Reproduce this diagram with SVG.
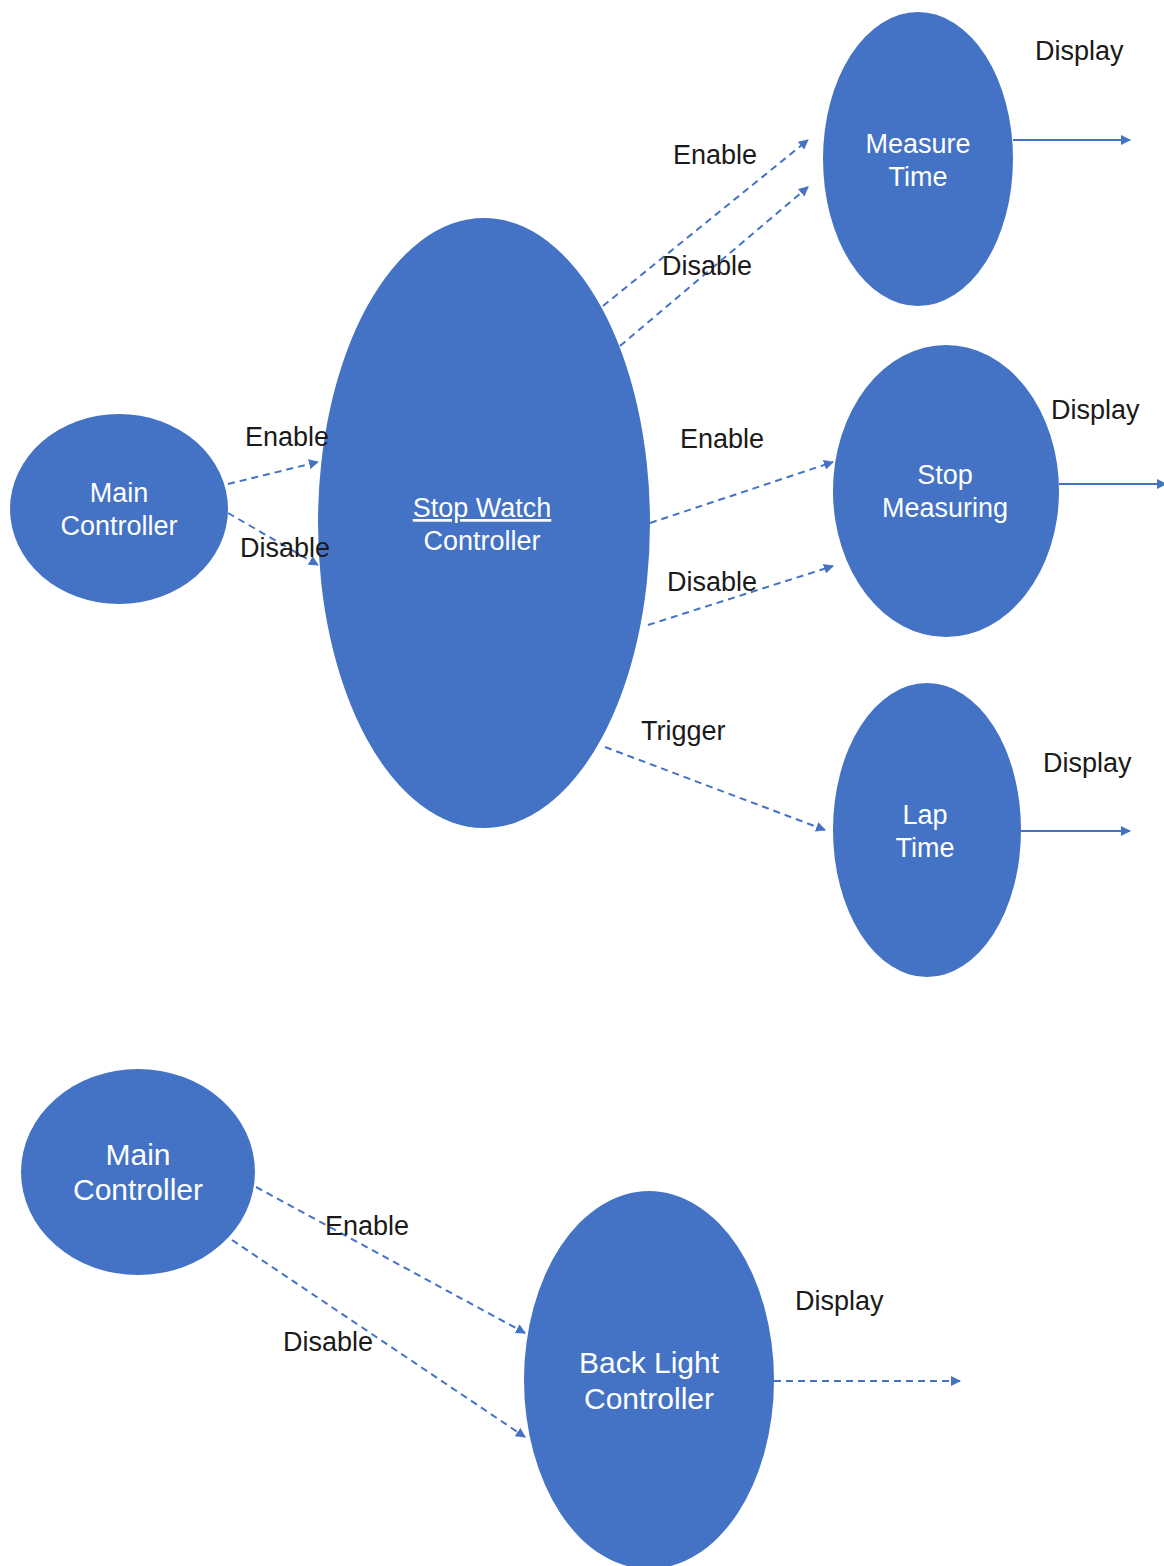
<svg xmlns="http://www.w3.org/2000/svg" width="1164" height="1566" viewBox="0 0 1164 1566">
  <style>
    .node { fill: #4472C4; }
    .ntext { fill: #ffffff; font-family: "Liberation Sans", "Noto Sans", sans-serif; font-size: 27px; text-anchor: middle; }
    .ntext.big { font-size: 30px; }
    .label { fill: #1a1a1a; font-family: "Liberation Sans", "Noto Sans", sans-serif; font-size: 27px; }
    .dash { stroke: #4472C4; stroke-width: 2; fill: none; stroke-dasharray: 7 5; marker-end: url(#arrow); }
    .solid { stroke: #4472C4; stroke-width: 2; fill: none; marker-end: url(#arrow); }
  </style>
  <defs>
    <marker id="arrow" viewBox="0 0 10 10" refX="9" refY="5" markerWidth="5" markerHeight="5" orient="auto" markerUnits="strokeWidth">
      <path d="M0,0 L10,5 L0,10 z" fill="#4472C4"/>
    </marker>
  </defs>
  <rect width="1164" height="1566" fill="#ffffff"/>

  <g id="connectors">
    <line class="dash" x1="228" y1="484" x2="318" y2="462"/>
    <line class="dash" x1="228" y1="513" x2="318" y2="565"/>
    <line class="dash" x1="603" y1="306" x2="808" y2="140"/>
    <line class="dash" x1="620" y1="346" x2="808" y2="187"/>
    <line class="dash" x1="650" y1="523" x2="833" y2="462"/>
    <line class="dash" x1="648" y1="625" x2="833" y2="566"/>
    <line class="dash" x1="605" y1="747" x2="825" y2="830"/>
    <line class="solid" x1="1013" y1="140" x2="1130" y2="140"/>
    <line class="solid" x1="1059" y1="484" x2="1166" y2="484"/>
    <line class="solid" x1="1021" y1="831" x2="1130" y2="831"/>
    <line class="dash" x1="256" y1="1187" x2="525" y2="1333"/>
    <line class="dash" x1="232" y1="1240" x2="525" y2="1437"/>
    <line class="dash" x1="774" y1="1381" x2="960" y2="1381"/>
  </g>

  <g id="main-controller-1">
    <ellipse class="node" cx="119" cy="509" rx="109" ry="95"/>
    <text class="ntext" x="119" y="502">Main</text>
    <text class="ntext" x="119" y="535">Controller</text>
  </g>

  <g id="stop-watch-controller">
    <ellipse class="node" cx="484" cy="523" rx="166" ry="305"/>
    <text class="ntext" x="482" y="517" text-decoration="underline">Stop Watch</text>
    <text class="ntext" x="482" y="550">Controller</text>
  </g>

  <g id="measure-time">
    <ellipse class="node" cx="918" cy="159" rx="95" ry="147"/>
    <text class="ntext" x="918" y="153">Measure</text>
    <text class="ntext" x="918" y="186">Time</text>
  </g>

  <g id="stop-measuring">
    <ellipse class="node" cx="946" cy="491" rx="113" ry="146"/>
    <text class="ntext" x="945" y="484">Stop</text>
    <text class="ntext" x="945" y="517">Measuring</text>
  </g>

  <g id="lap-time">
    <ellipse class="node" cx="927" cy="830" rx="94" ry="147"/>
    <text class="ntext" x="925" y="824">Lap</text>
    <text class="ntext" x="925" y="857">Time</text>
  </g>

  <g id="main-controller-2">
    <ellipse class="node" cx="138" cy="1172" rx="117" ry="103"/>
    <text class="ntext big" x="138" y="1165">Main</text>
    <text class="ntext big" x="138" y="1200">Controller</text>
  </g>

  <g id="back-light-controller">
    <ellipse class="node" cx="649" cy="1380" rx="125" ry="189"/>
    <text class="ntext big" x="649" y="1373">Back Light</text>
    <text class="ntext big" x="649" y="1409">Controller</text>
  </g>

  <g id="labels">
    <text class="label" x="1035" y="60">Display</text>
    <text class="label" x="673" y="164">Enable</text>
    <text class="label" x="662" y="275">Disable</text>
    <text class="label" x="245" y="446">Enable</text>
    <text class="label" x="240" y="557">Disable</text>
    <text class="label" x="680" y="448">Enable</text>
    <text class="label" x="667" y="591">Disable</text>
    <text class="label" x="1051" y="419">Display</text>
    <text class="label" x="641" y="740">Trigger</text>
    <text class="label" x="1043" y="772">Display</text>
    <text class="label" x="325" y="1235">Enable</text>
    <text class="label" x="283" y="1351">Disable</text>
    <text class="label" x="795" y="1310">Display</text>
  </g>
</svg>
